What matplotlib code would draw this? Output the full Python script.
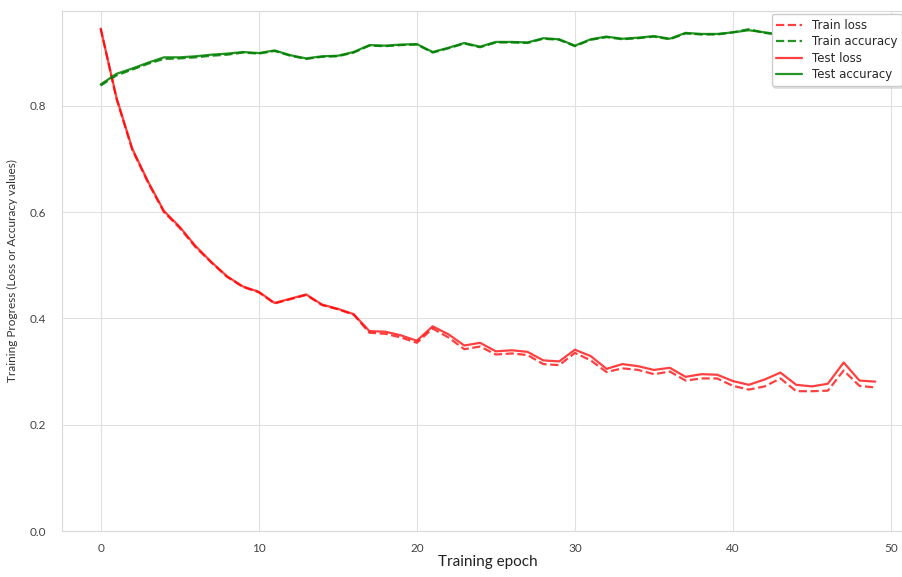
import matplotlib.pyplot as plt
import seaborn as sns

sns.set_style('whitegrid', {'grid.color': '.88', 'axes.edgecolor': '.85'})
plt.rcParams['font.family'] = ['DejaVu Sans']

# 训练数据
epochs = list(range(50))
test_loss = [0.945, 0.815, 0.719, 0.657, 0.602, 0.572, 0.536, 0.506, 0.479, 0.460,
             0.450, 0.429, 0.437, 0.445, 0.426, 0.418, 0.408, 0.376, 0.375, 0.368,
             0.358, 0.385, 0.370, 0.349, 0.354, 0.338, 0.340, 0.337, 0.321, 0.319,
             0.341, 0.329, 0.305, 0.314, 0.310, 0.303, 0.307, 0.290, 0.295, 0.294,
             0.282, 0.275, 0.285, 0.298, 0.275, 0.272, 0.277, 0.317, 0.283, 0.281]
train_loss = [0.945, 0.813, 0.717, 0.655, 0.600, 0.570, 0.534, 0.505, 0.478, 0.459,
              0.449, 0.428, 0.436, 0.444, 0.425, 0.417, 0.407, 0.373, 0.371, 0.364,
              0.354, 0.381, 0.364, 0.342, 0.347, 0.332, 0.334, 0.331, 0.314, 0.312,
              0.335, 0.321, 0.299, 0.306, 0.303, 0.295, 0.300, 0.283, 0.287, 0.287,
              0.273, 0.266, 0.272, 0.287, 0.263, 0.263, 0.264, 0.302, 0.273, 0.270]
test_acc = [0.840, 0.860, 0.870, 0.881, 0.891, 0.891, 0.893, 0.896, 0.898, 0.901,
            0.899, 0.904, 0.895, 0.889, 0.893, 0.894, 0.901, 0.914, 0.913, 0.915,
            0.916, 0.901, 0.909, 0.918, 0.911, 0.920, 0.920, 0.919, 0.927, 0.925,
            0.913, 0.925, 0.930, 0.926, 0.928, 0.931, 0.926, 0.937, 0.935, 0.935,
            0.938, 0.942, 0.938, 0.934, 0.940, 0.942, 0.944, 0.941, 0.945, 0.946]
train_acc = [0.838, 0.857, 0.868, 0.879, 0.888, 0.889, 0.891, 0.894, 0.896, 0.900,
             0.898, 0.903, 0.894, 0.888, 0.892, 0.893, 0.900, 0.913, 0.912, 0.914,
             0.915, 0.900, 0.908, 0.917, 0.910, 0.919, 0.919, 0.918, 0.926, 0.924,
             0.912, 0.924, 0.929, 0.925, 0.927, 0.930, 0.925, 0.936, 0.934, 0.934,
             0.938, 0.944, 0.937, 0.933, 0.939, 0.941, 0.943, 0.940, 0.944, 0.945]

fig = plt.figure(figsize=(9.02, 5.77), dpi=100)
ax = fig.add_axes([0.0687, 0.0797, 0.9446, 0.902])

ax.plot(epochs, train_loss, color='red', linestyle='--', alpha=0.75, lw=1.6, label='Train loss')
ax.plot(epochs, train_acc, color='green', linestyle='--', alpha=0.85, lw=1.6, label='Train accuracy')
ax.plot(epochs, test_loss, color='red', alpha=0.75, lw=1.6, label='Test loss')
ax.plot(epochs, test_acc, color='green', alpha=0.85, lw=1.6, label='Test accuracy')

ax.set_xlim(-2.45, 51.45)
ax.set_ylim(0, 0.979)
ax.set_xticks([0, 10, 20, 30, 40, 50])
ax.set_yticks([0.0, 0.2, 0.4, 0.6, 0.8])
ax.tick_params(axis='both', labelsize=8.5, colors='#444444')
ax.tick_params(axis='y', pad=8)
ax.tick_params(axis='x', pad=5)
for lab in ax.get_xticklabels() + ax.get_yticklabels():
    lab.set_family('Lato')

ax.set_xlabel('Training epoch', fontsize=11, family='Lato', color='#222222', labelpad=1)
ax.set_ylabel('Training Progress (Loss or Accuracy values)', fontsize=8.5, family='Lato',
              color='#333333', labelpad=8)

ax.legend(loc='upper right', bbox_to_anchor=(0.99, 1.0), fontsize=8.5, frameon=True,
          shadow={'color': '0.8', 'ox': 1.5, 'oy': -1.5},
          borderaxespad=0.3, handlelength=2.2, labelspacing=0.3)

fig.savefig('out.png', dpi=100)
